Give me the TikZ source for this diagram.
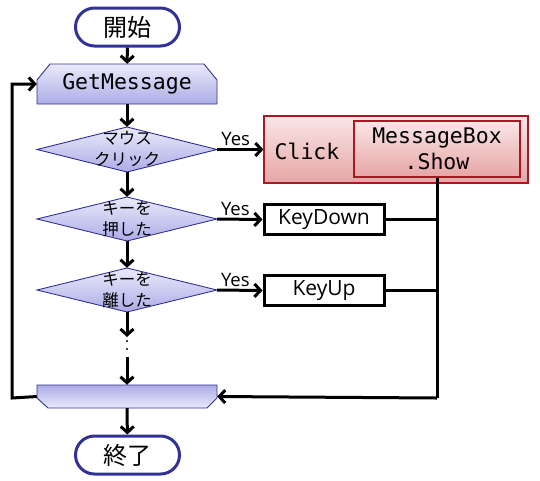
\documentclass[tikz,border=0pt]{standalone}
\usepackage{fontspec}
\usetikzlibrary{arrows.meta}
\newfontfamily\jp{Noto Sans CJK JP}
\newfontfamily\code{DejaVu Sans Mono}
\newfontfamily\ui{Open Sans}
\definecolor{edgeblue}{RGB}{50,50,150}
\definecolor{lavlight}{RGB}{234,234,251}
\definecolor{lavdark}{RGB}{172,172,230}
\definecolor{pinklight}{RGB}{250,230,230}
\definecolor{pinkdark}{RGB}{230,165,165}
\definecolor{rededge}{RGB}{170,25,35}
\begin{document}
\begin{tikzpicture}[x=1pt,y=-1pt,
  arr/.style={line width=3pt,-{Straight Barb[length=6pt,width=13pt]}},
  wire/.style={line width=3pt},
  term/.style={draw=edgeblue,line width=3pt,fill=white,rounded corners=19pt,
    minimum width=104pt,minimum height=38pt,inner sep=0pt,font=\jp\fontsize{24}{26}\selectfont},
  lavdown/.style={draw=edgeblue,line width=0.9pt,top color=lavlight,bottom color=lavdark},
  lavup/.style={draw=edgeblue,line width=0.9pt,top color=lavdark,bottom color=lavlight},
  anchorbox/.style={rectangle,inner sep=0pt,minimum width=180pt},
  dtext/.style={anchorbox,minimum height=45pt,align=center,font=\jp\fontsize{16.5}{21}\selectfont},
  redbox/.style={draw=rededge,line width=1.2pt,top color=pinklight,bottom color=pinkdark,inner sep=0pt},
  keybox/.style={draw,line width=3pt,fill=white,minimum width=120pt,minimum height=30pt,inner sep=0pt,
    font=\ui\fontsize{21}{24}\selectfont},
  yes/.style={font=\ui\fontsize{18.5}{20}\selectfont,inner sep=0pt,above=2pt}
]
\useasboundingbox (0,0) rectangle (540,480);

% start
\node[term] (start) at (127.5,27) {開始};

% GetMessage (loop start)
\path[lavdown] (37,80) -- (50,64) -- (204,64) -- (217,80) -- (217,104) -- (37,104) -- cycle;
\node[anchorbox,minimum height=40pt,font=\code\fontsize{21.5}{24}\selectfont] (getmsg) at (127,84) {GetMessage};

% decisions
\path[lavdown] (127,127) -- (217,149.5) -- (127,172) -- (37,149.5) -- cycle;
\node[dtext] (d1) at (127,149.5) {マウス\\クリック};
\path[lavdown] (127,197) -- (217,219) -- (127,241) -- (37,219) -- cycle;
\node[dtext,minimum height=44pt] (d2) at (127,219) {キーを\\押した};
\path[lavdown] (127,268) -- (217,290) -- (127,312) -- (37,290) -- cycle;
\node[dtext,minimum height=44pt] (d3) at (127,290) {キーを\\離した};

% Click box
\node[redbox,minimum width=264pt,minimum height=67pt] (click) at (396,149.5) {};
\node[font=\code\fontsize{21.5}{24}\selectfont,inner sep=0pt] (clicktxt) at (307,151) {Click};
\node[redbox,minimum width=166pt,minimum height=56pt,align=center,
  font=\code\fontsize{21.5}{26}\selectfont] (msgbox) at (437,149) {MessageBox\\.Show};

% key boxes
\node[keybox] (kdown) at (324,219.5) {KeyDown};
\node[keybox] (kup) at (324,290.5) {KeyUp};

% loop end
\path[lavup] (37,385) -- (217,385) -- (217,398) -- (207,408) -- (48,408) -- (37,398) -- cycle;
\node[anchorbox,minimum height=23pt] (loopend) at (127,396.5) {};

% end
\node[term] (stop) at (127.5,455) {終了};

% coordinates
\coordinate (dtop) at (127,337);
\coordinate (dbot) at (127,357);
\coordinate (m) at (437,398);
\coordinate (l1) at (12,398);
\coordinate (l2) at (12,84);

% main flow
\draw[arr] (start) -- (getmsg);
\draw[arr] (getmsg) -- (d1);
\draw[arr] (d1) -- (d2);
\draw[arr] (d2) -- (d3);
\draw[arr] (d3) -- (dtop);
\fill (127,341) circle (1.2pt) (127,349) circle (1.2pt);
\draw[arr] (dbot) -- (loopend);
\draw[arr] (loopend) -- (stop);

% yes branches
\draw[arr] (d1.east) -- node[yes,pos=0.4] (y1) {Yes} (click.west);
\draw[arr] (d2.east) -- node[yes,pos=0.4] (y2) {Yes} (kdown.west);
\draw[arr] (d3.east) -- node[yes,pos=0.4] (y3) {Yes} (kup.west);

% merge
\draw[wire] (msgbox.south) -- (m);
\draw[wire] (kdown.east) -- (kdown.east -| m);
\draw[wire] (kup.east) -- (kup.east -| m);
\draw[arr] (m) -- (loopend.east);

% loop back
\draw[arr] (loopend.west) -- (l1) -- (l2) -- (getmsg.west);
\end{tikzpicture}
\end{document}
